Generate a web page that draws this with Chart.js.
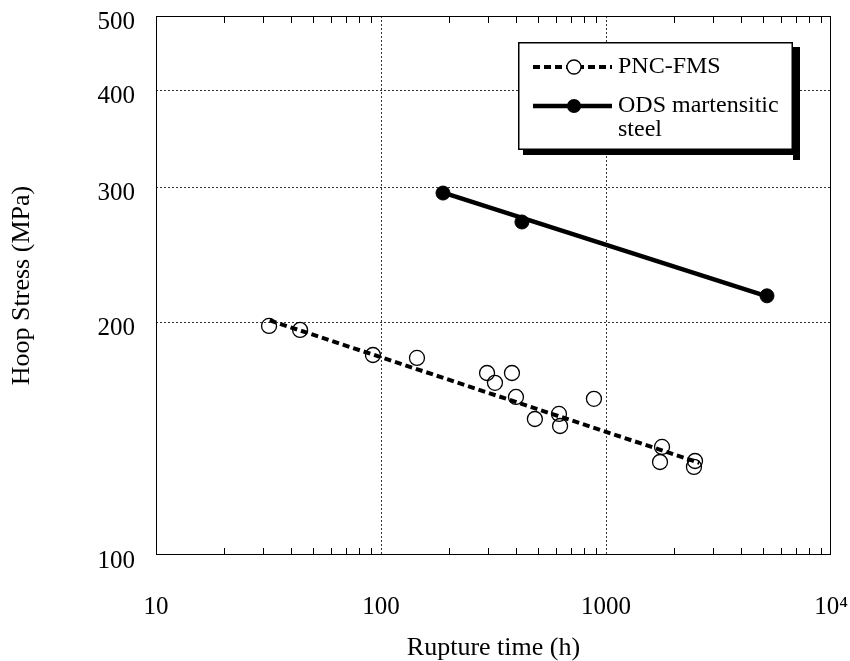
<!DOCTYPE html>
<html>
<head>
<meta charset="utf-8">
<script src="https://cdn.jsdelivr.net/npm/chart.js@4.4.1/dist/chart.umd.min.js"></script>
<style>
  html, body { margin:0; padding:0; background:#fff; }
  #wrap { width:850px; height:661px; }
</style>
</head>
<body>
<div id="wrap"><canvas id="c"></canvas></div>
<script>
// PNC-FMS: open circles + dashed fit line
const pncTime   = [31.8, 43.7, 92.1, 144.5, 296, 321, 382, 398, 483, 618, 625, 884, 1774, 1738, 2487, 2460];
const pncStress = [198.2, 195.8, 181.7, 180.1, 172.2, 167.2, 172.2, 160.3, 150.1, 152.4, 147.0, 159.4, 138.1, 132.0, 132.4, 130.1];
const pncFitTime   = [32, 2600];
const pncFitStress = [201.5, 131.7];

// ODS martensitic steel: filled circles + solid fit line
const odsTime   = [188.6, 423, 5194];
const odsStress = [294.7, 270.3, 216.8];
const odsFitTime   = [189, 5200];
const odsFitStress = [295, 216.5];

// axes
const xTicks = [10, 100, 1000, 10000];
const xTickLabels = ['10', '100', '1000', '10\u2074'];
const yTicks = [100, 200, 300, 400, 500];
const yTickLabels = ['100', '200', '300', '400', '500'];

const serif = '"Liberation Serif", "Times New Roman", serif';
const pts = (xs, ys) => xs.map((x, i) => ({ x, y: ys[i] }));

// cadre, petits traits de graduation et légende dessinés à la main
const decorations = {
  id: 'decorations',
  afterDraw(chart){
    const { ctx, chartArea: a, scales } = chart;
    const x = scales.x;
    ctx.save();
    ctx.strokeStyle = '#000';
    ctx.lineWidth = 1;
    ctx.strokeRect(a.left + 0.5, a.top + 0.5, a.right - a.left - 1, a.bottom - a.top - 1);

    // minor ticks on top and bottom, pointing inwards
    ctx.beginPath();
    for (let d = 10; d < 10000; d *= 10) {
      for (let m = 2; m <= 9; m++) {
        const px = Math.round(x.getPixelForValue(m * d)) + 0.5;
        ctx.moveTo(px, a.bottom); ctx.lineTo(px, a.bottom - 7);
        ctx.moveTo(px, a.top); ctx.lineTo(px, a.top + 7);
      }
    }
    ctx.stroke();

    // legend box with shadow
    const L = 518, T = 42, R = 793, B = 150;
    ctx.fillStyle = '#000';
    ctx.fillRect(R, T + 5, 7, B - T + 5);
    ctx.fillRect(L + 5, B, R - L + 2, 5);
    ctx.fillStyle = '#fff';
    ctx.fillRect(L, T, R - L, B - T);
    ctx.lineWidth = 1.5;
    ctx.strokeRect(L + 0.75, T + 0.75, R - L - 1.5, B - T - 1.5);

    // row 1: PNC-FMS
    ctx.lineWidth = 4;
    ctx.setLineDash([7, 4]);
    ctx.beginPath(); ctx.moveTo(533, 67); ctx.lineTo(612, 67); ctx.stroke();
    ctx.setLineDash([]);
    ctx.beginPath(); ctx.arc(574, 67, 7, 0, Math.PI * 2);
    ctx.fillStyle = '#fff'; ctx.fill();
    ctx.lineWidth = 1.3; ctx.stroke();

    // row 2: ODS
    ctx.lineWidth = 4.5;
    ctx.beginPath(); ctx.moveTo(533, 106); ctx.lineTo(612, 106); ctx.stroke();
    ctx.beginPath(); ctx.arc(574, 106, 7, 0, Math.PI * 2);
    ctx.fillStyle = '#000'; ctx.fill();

    ctx.fillStyle = '#000';
    ctx.font = '24px ' + serif;
    ctx.textBaseline = 'middle';
    ctx.textAlign = 'left';
    ctx.fillText('PNC-FMS', 618, 67);
    ctx.fillText('ODS martensitic', 618, 106);
    ctx.fillText('steel', 618, 130);
    ctx.restore();
  }
};

const gridColor = (edges) => (c) => edges.includes(c.tick && c.tick.value) ? 'rgba(0,0,0,0)' : '#333';

new Chart(document.getElementById('c').getContext('2d'), {
  type: 'scatter',
  data: {
    datasets: [
      { label:'PNC-FMS fit', data: pts(pncFitTime, pncFitStress), showLine:true, borderColor:'#000',
        borderWidth:4, borderDash:[7,4], borderCapStyle:'butt', pointRadius:0 },
      { label:'PNC-FMS', data: pts(pncTime, pncStress), showLine:false, pointRadius:7.5, pointBorderWidth:1.3,
        pointBorderColor:'#000', pointBackgroundColor:'rgba(0,0,0,0)' },
      { label:'ODS fit', data: pts(odsFitTime, odsFitStress), showLine:true, borderColor:'#000',
        borderWidth:4.5, pointRadius:0 },
      { label:'ODS martensitic steel', data: pts(odsTime, odsStress), showLine:false, pointRadius:7,
        pointBorderWidth:1, pointBorderColor:'#000', pointBackgroundColor:'#000' }
    ]
  },
  options: {
    responsive:true, maintainAspectRatio:false, animation:false, events:[],
    layout:{ padding:{ top:16, right:19, left:0, bottom:0 } },
    plugins:{ legend:{ display:false }, tooltip:{ enabled:false } },
    scales:{
      x:{
        type:'logarithmic', position:'bottom', min:10, max:10000,
        afterBuildTicks(s){ s.ticks = xTicks.map(v => ({ value:v })); },
        afterFit(s){ s.height = 106; s.paddingLeft = 0; s.paddingRight = 0; },
        ticks:{ color:'#000', font:{ family:serif, size:25 }, padding:37, maxRotation:0, autoSkip:false,
          callback:(v) => xTickLabels[xTicks.indexOf(v)] },
        grid:{ color:gridColor([10, 10000]), lineWidth:1, drawTicks:false },
        border:{ display:false, dash:[2,2] },
        title:{ display:true, text:'Rupture time (h)', color:'#000', padding:0,
          font:{ family:serif, size:26, lineHeight:1 } }
      },
      y:{
        type:'logarithmic', position:'left', min:100, max:500,
        afterBuildTicks(s){ s.ticks = yTicks.map(v => ({ value:v })); },
        afterFit(s){ s.width = 156; s.paddingTop = 0; s.paddingBottom = 0; },
        ticks:{ color:'#000', font:{ family:serif, size:25 }, padding:21, labelOffset:6, autoSkip:false,
          callback:(v) => yTickLabels[yTicks.indexOf(v)] },
        grid:{ color:gridColor([100, 500]), lineWidth:1, drawTicks:false },
        border:{ display:false, dash:[2,2] },
        title:{ display:true, text:'Hoop Stress (MPa)', color:'#000', padding:{ top:7, bottom:0 },
          font:{ family:serif, size:26, lineHeight:1.2 } }
      }
    }
  },
  plugins:[decorations]
});
</script>
</body>
</html>
